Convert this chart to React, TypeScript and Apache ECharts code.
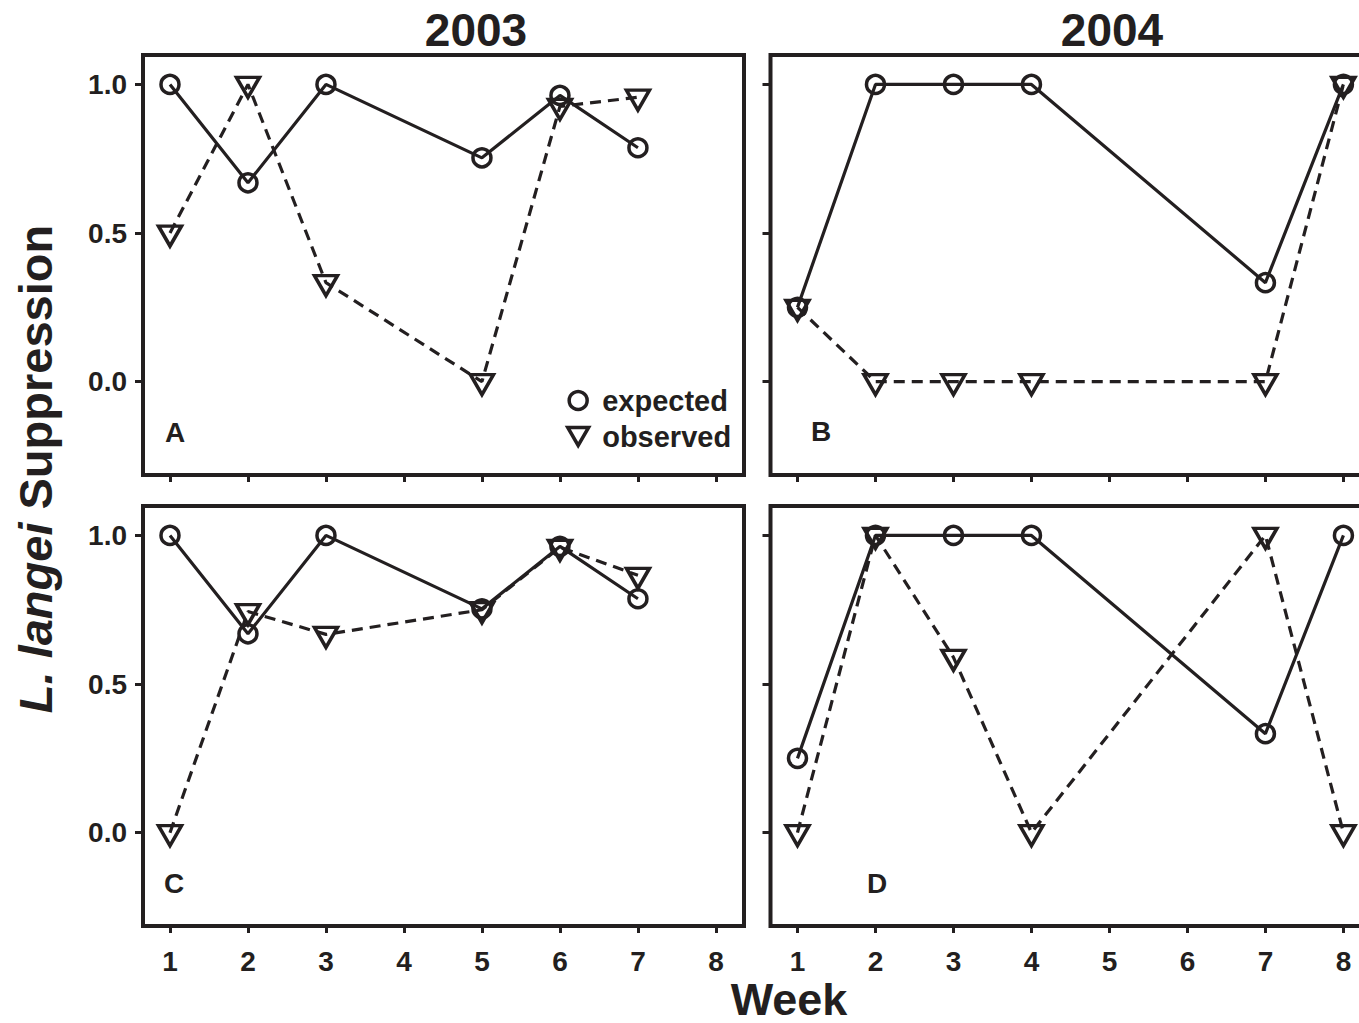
import React, { useEffect, useRef } from "react";
import * as echarts from "echarts";

const weeks2003 = [1, 2, 3, 5, 6, 7];
const weeks2004 = [1, 2, 3, 4, 7, 8];

const expectedA = [1.0, 0.669, 1.0, 0.753, 0.963, 0.787];
const observedA = [0.5, 1.0, 0.333, 0.0, 0.926, 0.957];

const expectedB = [0.25, 1.0, 1.0, 1.0, 0.333, 1.0];
const observedB = [0.25, 0.0, 0.0, 0.0, 0.0, 1.0];

const expectedC = [1.0, 0.669, 1.0, 0.753, 0.963, 0.787];
const observedC = [0.0, 0.744, 0.667, 0.75, 0.96, 0.866];

const expectedD = [0.25, 1.0, 1.0, 1.0, 0.333, 1.0];
const observedD = [0.0, 1.0, 0.59, 0.0, 1.0, 0.0];

const weekTicks = [1, 2, 3, 4, 5, 6, 7, 8];
const suppressionTicks = [0, 0.5, 1.0];
const yearTitles = ["2003", "2004"];
const panelLetters = ["A", "B", "C", "D"];
const seriesNames = ["expected", "observed"];

const FONT = '"Liberation Sans", Arial, Helvetica, sans-serif';
const INK = "#231f20";
const TRI = "path://M0,0 L22,0 L11,19 Z";

const panels = [
  { weeks: weeks2003, exp: expectedA, obs: observedA },
  { weeks: weeks2004, exp: expectedB, obs: observedB },
  { weeks: weeks2003, exp: expectedC, obs: observedC },
  { weeks: weeks2004, exp: expectedD, obs: observedD },
];

const gridPos = [
  { left: 143, top: 55 },
  { left: 770.5, top: 55 },
  { left: 143, top: 506 },
  { left: 770.5, top: 506 },
];

const letterPos = [
  [175, 432],
  [821, 431],
  [174, 883],
  [877, 883],
];

export default function App() {
  const ref = useRef<HTMLDivElement>(null);
  useEffect(() => {
    if (!ref.current) return;
    const chart = echarts.init(ref.current, undefined, { renderer: "svg" });

    const grids = gridPos.map((g) => ({
      left: g.left,
      top: g.top,
      width: 601,
      height: 420,
      show: true,
      borderColor: INK,
      borderWidth: 4,
      backgroundColor: "transparent",
      containLabel: false,
    }));

    const xAxes = panels.map((_, i) => ({
      type: "value",
      gridIndex: i,
      position: "bottom",
      min: 0.654,
      max: 8.36,
      axisLine: { show: false, onZero: false },
      splitLine: { show: false },
      axisTick: {
        show: true,
        inside: false,
        length: 7,
        lineStyle: { color: INK, width: 3 },
        customValues: weekTicks,
      },
      axisLabel: {
        show: i >= 2,
        customValues: weekTicks,
        margin: 23,
        lineHeight: 24,
        color: INK,
        fontFamily: FONT,
        fontWeight: "bold",
        fontSize: 28,
      },
    }));

    const yAxes = panels.map((_, i) => ({
      type: "value",
      gridIndex: i,
      position: "left",
      min: -0.314,
      max: 1.099,
      axisLine: { show: false, onZero: false },
      splitLine: { show: false },
      axisTick: {
        show: true,
        inside: false,
        length: 8,
        lineStyle: { color: INK, width: 3 },
        customValues: suppressionTicks,
      },
      axisLabel: {
        show: i % 2 === 0,
        customValues: suppressionTicks,
        formatter: (v: number) => v.toFixed(1),
        margin: 16,
        color: INK,
        fontFamily: FONT,
        fontWeight: "bold",
        fontSize: 28,
      },
    }));

    const series: any[] = [];
    panels.forEach((p, i) => {
      series.push({
        type: "line",
        name: seriesNames[0],
        xAxisIndex: i,
        yAxisIndex: i,
        data: p.weeks.map((w, k) => [w, p.exp[k]]),
        symbol: "circle",
        symbolSize: 18,
        itemStyle: { color: "rgba(0,0,0,0)", borderColor: INK, borderWidth: 3.5 },
        lineStyle: { color: INK, width: 3.2, type: "solid" },
        clip: false,
        z: 3,
      });
      series.push({
        type: "line",
        name: seriesNames[1],
        xAxisIndex: i,
        yAxisIndex: i,
        data: p.weeks.map((w, k) => [w, p.obs[k]]),
        symbol: TRI,
        symbolSize: [23, 20],
        symbolOffset: [0, 3],
        itemStyle: { color: "rgba(0,0,0,0)", borderColor: INK, borderWidth: 3.5 },
        lineStyle: { color: INK, width: 3.2, type: [11, 7] },
        clip: false,
        z: 3,
      });
    });

    const graphic: any[] = [];
    yearTitles.forEach((t, i) => {
      graphic.push({
        type: "text",
        x: i === 0 ? 476 : 1112,
        y: 30,
        style: {
          text: t,
          font: `bold 46px ${FONT}`,
          fill: INK,
          textAlign: "center",
          textVerticalAlign: "middle",
        },
      });
    });
    panelLetters.forEach((t, i) => {
      graphic.push({
        type: "text",
        x: letterPos[i][0],
        y: letterPos[i][1],
        style: {
          text: t,
          font: `bold 28px ${FONT}`,
          fill: INK,
          textAlign: "center",
          textVerticalAlign: "middle",
        },
      });
    });
    graphic.push({
      type: "text",
      x: 789,
      y: 999,
      style: {
        text: "Week",
        font: `bold 45px ${FONT}`,
        lineHeight: 34,
        fill: INK,
        textAlign: "center",
        textVerticalAlign: "middle",
      },
    });
    graphic.push({
      type: "text",
      x: 35,
      y: 469,
      rotation: Math.PI / 2,
      style: {
        text: "{i|L. langei} {b|Suppression}",
        fill: INK,
        textAlign: "center",
        textVerticalAlign: "middle",
        font: `bold 47px ${FONT}`,
        rich: {
          i: { fontFamily: FONT, fontWeight: "bold", fontStyle: "italic", fontSize: 47, fill: INK, color: INK },
          b: { fontFamily: FONT, fontWeight: "bold", fontSize: 47, fill: INK, color: INK },
        },
      },
    });

    chart.setOption({
      animation: false,
      backgroundColor: "#ffffff",
      grid: grids,
      xAxis: xAxes,
      yAxis: yAxes,
      series,
      legend: {
        left: 561,
        top: 381,
        orient: "vertical",
        itemWidth: 38,
        itemHeight: 18,
        itemGap: 7,
        selectedMode: false,
        textStyle: { color: INK, fontFamily: FONT, fontWeight: "bold", fontSize: 29 },
        data: [
          {
            name: seriesNames[0],
            icon: "circle",
            itemStyle: { color: "rgba(0,0,0,0)", borderColor: INK, borderWidth: 3.5 },
          },
          {
            name: seriesNames[1],
            icon: TRI,
            itemStyle: { color: "rgba(0,0,0,0)", borderColor: INK, borderWidth: 3.5 },
          },
        ],
      },
      graphic,
    });

    return () => chart.dispose();
  }, []);

  return (
    <div style={{ position: "absolute", left: 0, top: 0, width: 1359, height: 1023, overflow: "hidden", background: "#fff" }}>
      <div ref={ref} style={{ width: 1400, height: 1023 }} />
    </div>
  );
}
